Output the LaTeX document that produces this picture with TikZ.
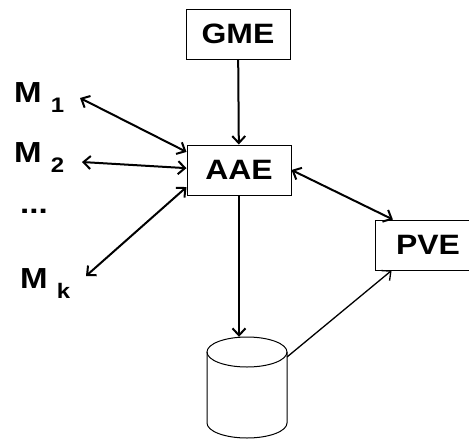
\documentclass[tikz,border=0pt]{standalone}
\usepackage{fontspec}
\setmainfont{Liberation Sans}[FakeStretch=1.14]
\usetikzlibrary{arrows.meta}
\tikzset{
  box/.style={draw, line width=1pt, minimum width=104pt, minimum height=50pt,
    font=\fontsize{28}{28}\selectfont\bfseries},
  lab/.style={font=\fontsize{29}{29}\selectfont\bfseries, inner sep=0pt, anchor=base west},
  link/.style={line width=2pt, >={Straight Barb[length=7pt,width=13pt]}},
}
\newcommand{\msub}[1]{M {\fontsize{21}{21}\selectfont\raisebox{-10pt}{#1}}}
\begin{document}
\begin{tikzpicture}[x=1pt,y=-1pt]
    \useasboundingbox (0,0) rectangle (469,440);
    \node[box] (gme) at (238,34) {GME};
    \node[box] (aae) at (239,170) {AAE};
    \node[box, minimum width=106pt] (pve) at (428,245) {PVE};
    % database
    \node[minimum width=80pt, minimum height=101pt, inner sep=0pt] (db) at (247,387.5) {};
    \draw[line width=1pt] (247,352) ellipse (40 and 15);
    \draw[line width=1pt] (207,352) -- (207,423) arc[start angle=180, end angle=0, x radius=40, y radius=15] -- (287,352);
    \coordinate (dbrim) at (287,357);
    % clients
    \node[lab] (m1) at (14,102) {\msub{1}};
    \node[lab] (m2) at (14,162) {\msub{2}};
    \node[lab] (dots) at (20,213) {...};
    \node[lab] (mk) at (20,288) {\msub{k}};
    \coordinate (m1tip) at (80,98);
    \coordinate (m2tip) at (82,162);
    \coordinate (mktip) at (86,276);
    \draw[link,->] (gme) -- (aae);
    \draw[link,<->] (m1tip) -- (aae.161);
    \draw[link,<->] (m2tip) -- (aae.178);
    \draw[link,<->] (mktip) -- (aae.198);
    \draw[link,<->] (aae.east) -- (pve.144);
    \draw[link,->] (aae) -- (aae |- db.north);
    \draw[link,->,line width=1.3pt] (dbrim) -- (pve.215);
\end{tikzpicture}
\end{document}
